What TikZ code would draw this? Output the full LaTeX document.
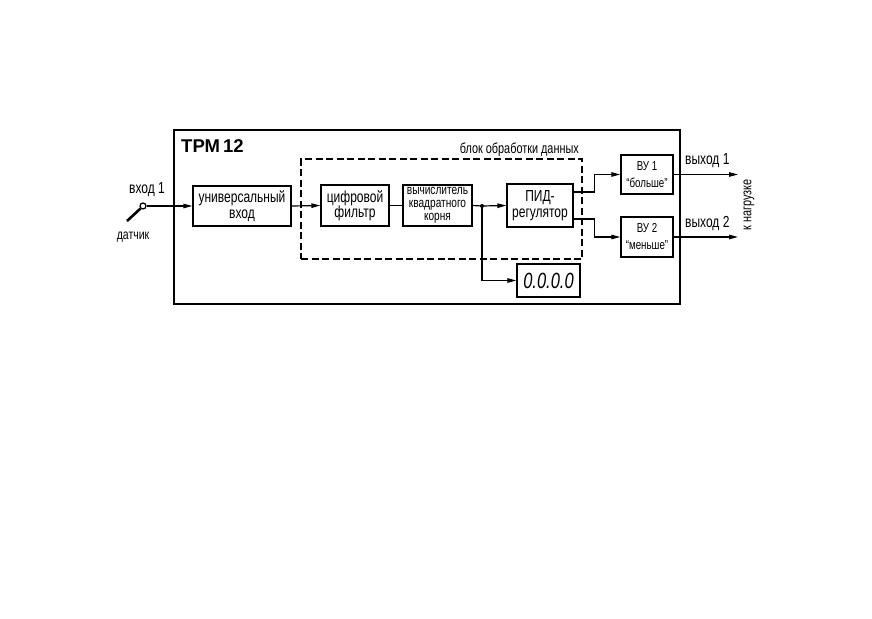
\documentclass[tikz,border=0pt]{standalone}
\usepackage{fontspec}
\setmainfont[FakeStretch=0.75]{Liberation Sans}
\newfontfamily\titlefont{Liberation Sans}
\usetikzlibrary{arrows.meta}
\tikzset{
  blk/.style={draw, line width=1.4pt, align=center, inner sep=0pt, font=\fontsize{16}{15.5}\selectfont},
  arr/.style={line width=1.2pt, -{Triangle[length=9pt,width=4.5pt]}},
  ln/.style={line width=1.2pt},
  lbl/.style={font=\fontsize{16}{16}\selectfont, inner sep=0pt}
}
\begin{document}
\begin{tikzpicture}[x=1pt,y=-1pt]
\useasboundingbox (0,0) rectangle (872,618);
% outer frame
\node[draw, line width=2pt, minimum width=506pt, minimum height=174pt, inner sep=0pt] (frame) at (427,217) {};
\node[anchor=west, inner sep=0pt, font=\titlefont\bfseries\fontsize{18.5}{18}\selectfont] (title) at (181,146) {ТРМ\,12};
% dashed block
\node[draw, dashed, dash pattern=on 7pt off 3.5pt, line width=1.1pt, minimum width=281pt, minimum height=100pt, inner sep=0pt] (proc) at (441.5,209) {};
\node[lbl, anchor=east, font=\fontsize{14.5}{14}\selectfont] (proclbl) at (579,150) {блок обработки данных};
% blocks
\node[blk, minimum width=98pt, minimum height=40pt] (univ) at (242,206) {универсальный\\вход};
\node[blk, minimum width=68pt, minimum height=41pt] (filt) at (355,205.5) {цифровой\\фильтр};
\node[blk, minimum width=69pt, minimum height=41pt, font=\fontsize{13.5}{13}\selectfont] (calc) at (437.5,205.5) {вычислитель\\квадратного\\корня};
\node[blk, minimum width=66pt, minimum height=43pt] (pid) at (540,205.5) {ПИД-\\регулятор};
\node[blk, minimum width=63pt, minimum height=33pt, font=\itshape\fontsize{22}{22}\selectfont] (disp) at (548.5,280.5) {0.0.0.0};
\node[blk, minimum width=52pt, minimum height=39pt, font=\fontsize{13}{17}\selectfont] (vu1) at (647,174.5) {ВУ 1\\“больше”};
\node[blk, minimum width=52pt, minimum height=40pt, font=\fontsize{13}{17}\selectfont] (vu2) at (647,237) {ВУ 2\\“меньше”};
% input
\node[draw, circle, line width=1.3pt, minimum size=6pt, inner sep=0pt, fill=white] (in) at (143,206) {};
\coordinate (sens) at (127,221);
\draw[line width=2.6pt] (sens) -- (in.south west);
\node[lbl, anchor=south] (inlbl) at (147,197) {вход 1};
\node[lbl, font=\fontsize{14}{14}\selectfont] (senslbl) at (133,237) {датчик};
% connectors
\draw[arr] (in) -- (univ.west);
\draw[arr] (univ.east) -- (filt.west);
\draw[ln] (filt.east) -- (calc.west);
\coordinate (dot) at (482,206);
\draw[ln] (calc.east) -- (dot);
\draw[arr] (dot) -- (pid.west);
\fill (dot) circle (2pt);
\draw[arr] (dot) |- (disp.west);
\draw[arr] ([yshift=13.5pt]pid.east) -- ++(21,0) |- (vu1.west);
\draw[arr] ([yshift=-13.5pt]pid.east) -- ++(21,0) |- (vu2.west);
\coordinate (out1) at (738,174.5);
\coordinate (out2) at (738,237);
\draw[arr] (vu1.east) -- (out1);
\draw[arr] (vu2.east) -- (out2);
\node[lbl, anchor=south west] (o1lbl) at (685,168) {выход 1};
\node[lbl, anchor=south west] (o2lbl) at (685,231) {выход 2};
\node[lbl, rotate=90, font=\fontsize{14.5}{14}\selectfont] (load) at (749,205) {к нагрузке};
\end{tikzpicture}
\end{document}
